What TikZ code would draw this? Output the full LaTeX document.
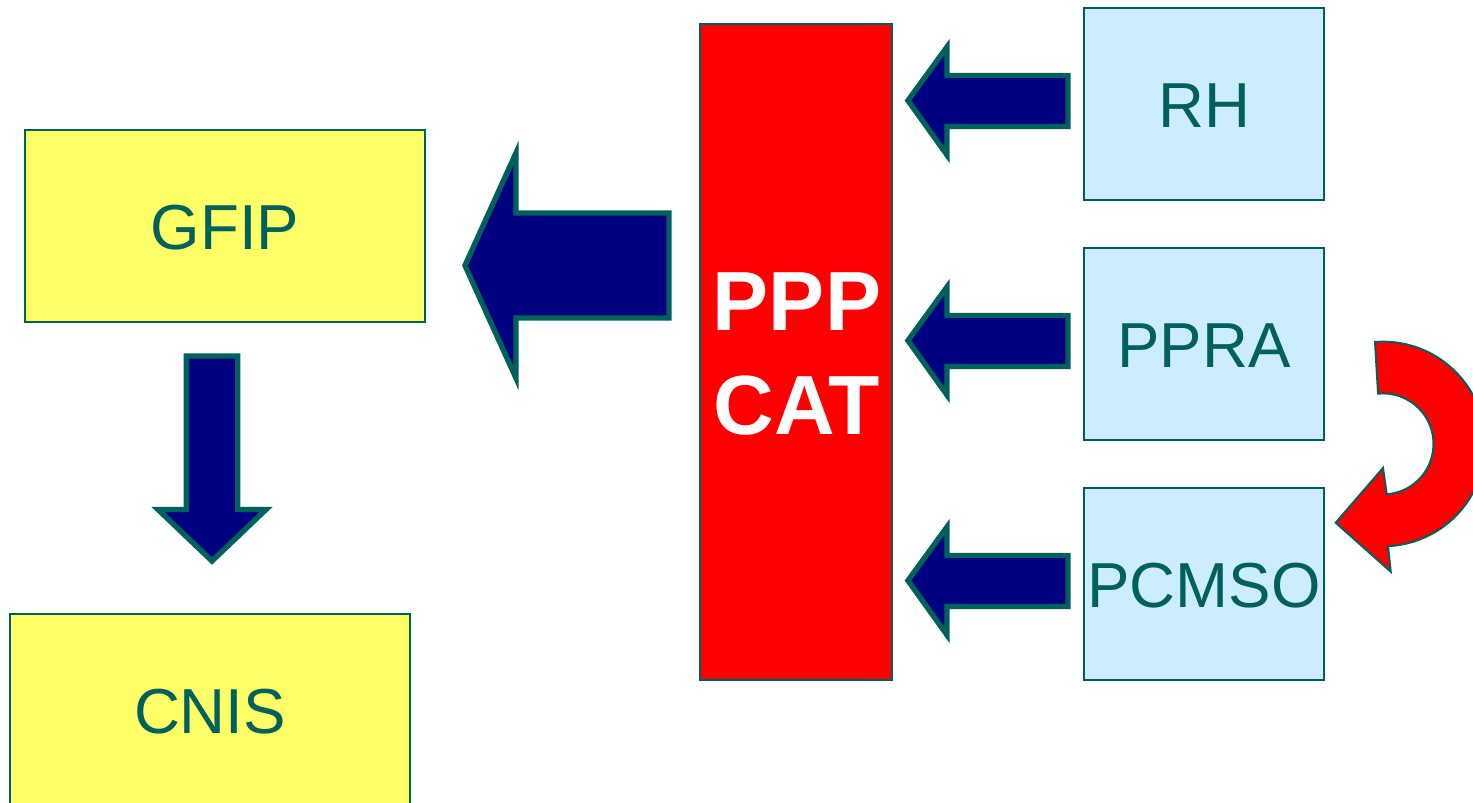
\documentclass[tikz,border=0pt]{standalone}
\usepackage{fontspec}
\setmainfont{Liberation Sans}
\definecolor{tealdk}{RGB}{0,96,92}
\definecolor{boxyellow}{RGB}{255,255,102}
\definecolor{boxblue}{RGB}{204,236,255}
\definecolor{navyfill}{RGB}{0,0,128}
\begin{document}
\begin{tikzpicture}[x=0.5pt,y=-0.5pt,
  box/.style={draw=tealdk, line width=1pt, minimum width=#1, inner sep=0pt,
    text=tealdk, font=\fontsize{31.8}{38}\selectfont},
  boxtext/.style={text=tealdk, font=\fontsize{31.8}{38}\selectfont, inner sep=0pt},
  blockarrow/.style={draw=tealdk, fill=navyfill, line width=2.7pt, line join=miter},
  curvearrow/.style={draw=tealdk, fill=red, line width=1pt, line join=miter}]
\useasboundingbox (0,0) rectangle (1473,803);
% boxes
\node[box=200pt, minimum height=96pt, fill=boxyellow] (gfip) at (225,226) {};
\node[boxtext] (gfipt) at (225,228) {GFIP};
\node[box=200pt, minimum height=96pt, fill=boxyellow] (cnis) at (210,710) {};
\node[boxtext] (cnist) at (210,712) {CNIS};
\node[draw=tealdk, line width=1pt, fill=red, minimum width=96pt, minimum height=328pt,
  inner sep=0pt] (cat) at (796,352) {};
\node[text=white, align=center, inner sep=0pt, font=\fontsize{42}{52}\selectfont\bfseries]
  (catt) at (797,354) {PPP\\CAT};
\node[box=120pt, minimum height=96pt, fill=boxblue] (rh) at (1204,104) {};
\node[boxtext] (rht) at (1204,106) {RH};
\node[box=120pt, minimum height=96pt, fill=boxblue] (ppra) at (1204,344) {};
\node[boxtext] (pprat) at (1204,346) {PPRA};
\node[box=120pt, minimum height=96pt, fill=boxblue] (pcmso) at (1204,584) {};
\node[boxtext] (pcmsot) at (1204,586) {PCMSO};
% small block arrows into PPP CAT
\foreach \dy/\nm in {0/a1,240/a2,480/a3}{
  \draw[blockarrow] (908,100.5+\dy) -- (947,47+\dy) -- (947,75.5+\dy) -- (1068,75.5+\dy)
    -- (1068,126.5+\dy) -- (947,126.5+\dy) -- (947,155+\dy) -- cycle;
}
% big arrow to GFIP
\draw[blockarrow] (465,265.5) -- (516,153) -- (516,213) -- (669,213) -- (669,318)
  -- (516,318) -- (516,378) -- cycle;
% down arrow to CNIS
\draw[blockarrow] (186.3,356) -- (237.7,356) -- (237.7,509.5) -- (266,509.5) -- (212,561)
  -- (158,509.5) -- (186.3,509.5) -- cycle;
% curved arrow PPRA -> PCMSO
\draw[curvearrow] (1375,342) arc[start angle=-94.5, end angle=87.2, radius=102.3]
  -- (1390.7,571.7) -- (1335.7,522.7) -- (1383,468) -- (1386.7,494.3)
  arc[start angle=85.8, end angle=-95.6, radius=50.5] -- cycle;
\end{tikzpicture}
\end{document}
